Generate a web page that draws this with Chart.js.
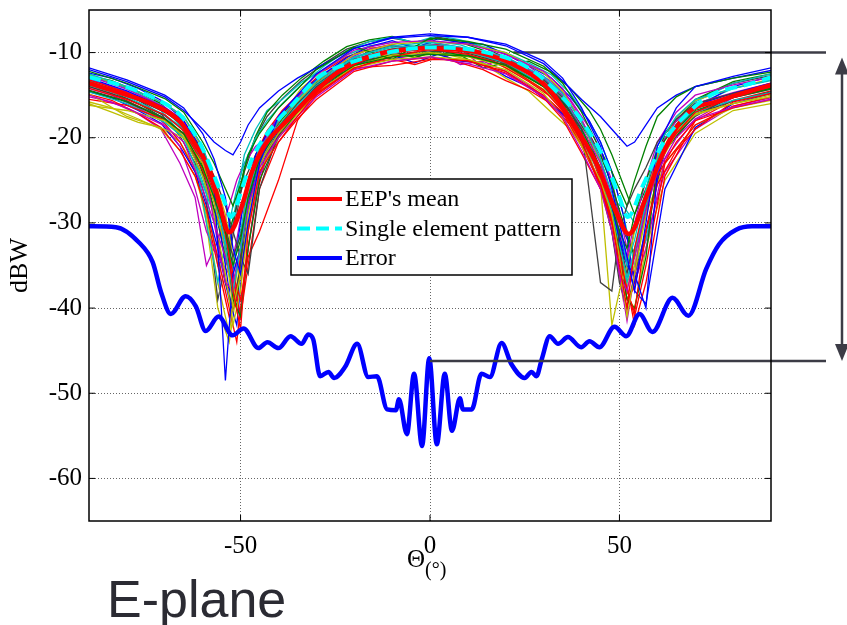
<!DOCTYPE html>
<html>
<head>
<meta charset="utf-8">
<script src="https://cdn.jsdelivr.net/npm/chart.js@4.4.1/dist/chart.umd.min.js"></script>
<style>
  html, body { margin: 0; padding: 0; background: #fff; }
  #wrap { position: relative; width: 847px; height: 625px; }
  #xTitle { position: absolute; left: 407px; top: 546px; font: 25px 'Liberation Serif', serif; color: #000; line-height: 1; }
  #xTitle sub { font-size: 20px; vertical-align: -9px; }
  #plane { position: absolute; left: 107px; top: 573px; font: 52px 'Liberation Sans', Arial, sans-serif; color: #2b2b33; line-height: 1; }
</style>
</head>
<body>
<div id="wrap">
  <canvas id="chart" width="847" height="625"></canvas>
  <div id="xTitle">Θ<sub>(°)</sub></div>
  <div id="plane">E-plane</div>
</div>
<script>
// === Data ===
const xTicks = [-50, 0, 50];
const yTicks = [-60, -50, -40, -30, -20, -10];
const refLevels = [-10, -46.2]; // levels marked by the arrow on the right

// angle grid A for the first group of element patterns
const theta = [-90, -80, -70, -65, -60, -57, -54, -52, -50, -48, -45, -40, -35, -30,
               -20, -10, 0, 10, 20,
               30, 35, 40, 45, 48, 50, 52, 54, 57, 60, 65, 70, 80, 90];

const eep1 = [-11.8, -13.2, -15.0, -16.5, -19.5, -22.5, -27, -33, -36, -30, -23, -17.5, -15, -12.5, -9.5, -8.3, -8.0, -8.2, -9.0, -11.0, -13.0, -16.5, -21, -26, -30, -34, -38, -30, -21, -16.5, -14, -12.8, -11.8];
const eep2 = [-14.5, -15.8, -17.8, -19.5, -23.5, -27, -31, -35, -32, -27, -22.5, -19, -16.5, -14.3, -11.5, -10.5, -10.2, -10.4, -11.5, -14, -16, -19.5, -24, -28, -31, -33, -29, -25, -21.5, -18.5, -16.5, -15.2, -14.2];
const eep3 = [-13.2, -14.7, -16.8, -18.5, -22.5, -26, -30, -38, -42.5, -31, -24, -20.5, -17.5, -14.8, -11.8, -10.5, -9.6, -10.2, -11.5, -14.4, -16.8, -20.5, -25.5, -30, -35, -40, -33, -27, -23, -19.5, -17, -15.3, -14.1];
const eep4 = [-12.5, -14, -16, -17.5, -21, -25, -33, -38, -33, -27, -21.5, -18, -15.5, -13.3, -10.5, -9.2, -8.8, -9.5, -10.5, -12.8, -14.8, -18.2, -22.5, -26.5, -30, -35, -32, -26, -21, -17.5, -15.5, -14.2, -13.2];
const eep5 = [-15, -16.5, -18.6, -20.5, -26, -30, -34, -37, -33, -28, -23.5, -20, -17.5, -15.2, -12, -11, -10.5, -11.3, -12.5, -15.2, -17.5, -21.5, -26, -31, -36, -38, -34, -28.5, -24, -20, -17.8, -16.4, -15.5];
const eep6 = [-14.8, -17.5, -19, -20, -23, -27.5, -33, -40, -36, -29, -23, -19.5, -16.8, -14.6, -11.8, -10.8, -10.5, -10.8, -12, -14.8, -17.6, -21, -25, -29, -34, -41, -36, -29, -23.5, -19.5, -17.2, -16, -15];
const eep7 = [-13.5, -15, -17, -18.5, -21.5, -24.5, -28, -31, -34, -36, -26, -19.5, -16.5, -14, -11, -9.8, -9.5, -9.8, -10.8, -13.4, -15.6, -19, -37, -38, -31, -28, -26, -23.5, -20.5, -17.8, -16, -14.8, -13.8];
const eep8 = [-13, -14.5, -16.5, -18, -21.5, -25, -48.5, -36, -33, -28, -23, -19.5, -16.8, -14.5, -11.2, -9.8, -9.3, -9.7, -10.8, -13.5, -16, -19.8, -24, -28, -32, -35, -36, -40, -24, -18.5, -16.2, -14.8, -13.6];
const eep9 = [-12.2, -13.6, -15.4, -17, -20.5, -23, -26, -28, -25.5, -22, -19.5, -16.5, -14.3, -12, -9.3, -10.8, -8.3, -8.7, -9.6, -11.6, -13.6, -17, -21.5, -24, -26, -28, -25, -21, -17.5, -15.2, -14, -13, -12.3];
const eep10 = [-14.2, -15.5, -17.3, -19.2, -23, -26.5, -31.5, -36, -39, -34, -31, -25, -18, -15, -11.8, -11.5, -10.8, -10.9, -12.4, -15, -17, -21, -25.5, -29.5, -33.5, -38, -40.5, -31, -25.5, -21.5, -19, -15.8, -14.8];
const eep11 = [-13.8, -15.2, -17.3, -19, -22.8, -27, -32, -36, -33, -28.5, -22.5, -19, -16.2, -13.9, -10.9, -9.7, -9.3, -9.9, -11.2, -13.8, -16.2, -20, -24.5, -28.5, -32.5, -36.5, -33.5, -28, -22.5, -18.8, -16.6, -15, -14];
const eep12 = [-12.8, -14.3, -16.4, -18, -22, -30, -37, -38, -33, -27, -21.5, -17.5, -15, -12.6, -9.7, -8.8, -8.6, -9, -10.2, -12.2, -14.2, -17.8, -22.5, -27, -31, -34, -30, -25, -20.5, -17, -15, -13.8, -12.9];
const eep13 = [-16.2, -16.8, -18, -19.8, -24.5, -29, -36, -42, -38, -30, -24, -20, -17.2, -14.8, -11.6, -10.3, -10, -10.5, -11.6, -14.3, -16.8, -20.8, -25.5, -42, -38, -35, -31, -26.5, -22.5, -19.2, -17.3, -16, -15.2];
const eep14 = [-14, -15.4, -17.4, -19, -22.5, -26, -30.5, -34, -31.5, -27.5, -22, -18.8, -16, -13.8, -10.8, -9.6, -9.2, -9.6, -10.8, -13.2, -15.3, -19.5, -24, -28, -32, -36, -30.5, -27, -23, -19.5, -17.5, -15, -14.1];
const eep15 = [-12, -13.4, -15.2, -16.8, -19, -20.5, -21.5, -22, -20.5, -18.5, -16.5, -14.5, -13, -11.8, -9.5, -8.2, -7.8, -8.2, -9.2, -11.3, -13.3, -15.5, -17.5, -19, -20, -21, -20.5, -18.5, -16.5, -15, -14, -13, -12.1];
const eep16 = [-13.4, -14.8, -16.9, -18.6, -22.5, -26.2, -31, -39, -41, -33, -25, -20, -17, -14.2, -11.2, -10.3, -10, -10.3, -11.5, -13.8, -15.8, -19, -23.5, -28.5, -33, -39, -40, -34, -22.8, -19, -16.8, -15.3, -14.3];
const eep17 = [-15.5, -16.2, -17.9, -19.5, -23.8, -27.5, -33, -36.5, -41, -35, -26, -20.5, -17.8, -15.5, -12.2, -11, -10.6, -11, -12.2, -15.3, -17.8, -21.8, -26, -30, -34, -39, -37.5, -31, -24.5, -20.5, -18, -16.5, -15.5];
const eep18 = [-14.6, -16, -18.2, -20, -25.5, -29, -32, -35, -31, -26, -21, -18.6, -16, -13.7, -10.6, -9.4, -9.1, -9.6, -10.7, -13.1, -15.2, -19, -24, -29, -34, -37, -33, -27.5, -23, -19.2, -17, -15.6, -14.7];
const eep19 = [-13.1, -14.6, -16.6, -18.2, -21.8, -25.5, -30, -36, -41, -33, -24.5, -19.5, -16.5, -14, -10.8, -9.6, -9.1, -9.5, -10.5, -13, -15, -18.8, -23, -27.5, -36, -41.5, -36, -27, -21.5, -18, -16, -14.7, -13.6];
const eep20 = [-12.6, -14, -16, -17.6, -21.2, -24.8, -29, -34, -36.5, -31, -23.5, -18.6, -15.8, -13.4, -10.2, -9, -8.7, -9, -10, -12.4, -14.5, -18.2, -22.8, -27.5, -32, -37, -35, -29, -22, -17.6, -15.6, -14.2, -13.1];
const eep21 = [-14.4, -15.7, -17.7, -19.6, -24.5, -29, -37, -40, -35, -28.5, -23, -19.8, -17, -14.6, -11.5, -10.2, -9.8, -10.1, -11.3, -14, -16.5, -20.5, -25.5, -31, -37, -40, -36, -28, -23, -19.5, -17.2, -15.7, -14.6];

// angle grid B for the second group (finer near the main lobe)
const thetaB = [-90, -84, -77, -71, -66, -62, -59, -56, -53, -51,
                -49, -46, -43, -39, -34, -28, -22, -16, -10, -4,
                2, 8, 14, 20, 26, 32, 37, 42, 45, 48,
                51, 54, 57, 62, 70, 80, 90];

const eep22 = [-12.4, -13.0, -14.2, -15.6, -17.5, -20.5, -24, -29, -38, -33, -27, -22, -19.5, -17, -14.6, -12.5, -10.6, -9.3, -8.6, -9.5, -8.4, -8.8, -9.0, -10.2, -11.5, -13.0, -15.2, -18, -20.5, -24, -29, -37, -31, -21, -16.5, -14, -12.8];
const eep23 = [-13.8, -14.6, -16, -17.5, -19.5, -22, -25, -30, -36, -40, -30, -24, -20.5, -17.8, -15.5, -13.2, -11.5, -10.4, -9.8, -10.6, -9.7, -10.3, -11.8, -11.2, -12.8, -14.6, -16.8, -19.8, -22, -25.5, -30, -34, -28, -21.5, -17.3, -15.2, -14];
const eep24 = [-14.9, -15.6, -17.2, -18.8, -21.5, -24.5, -28.5, -34, -40, -44, -36, -27, -22, -19, -16.6, -14.2, -12.3, -11.2, -10.8, -11.4, -10.6, -11.2, -12, -13.3, -14.4, -16, -18.5, -22.5, -26, -30, -36, -41, -35, -23, -18.5, -16.3, -15.2];
const eep25 = [-12.9, -13.5, -14.8, -16.2, -18.5, -22, -30, -37, -30, -26, -23, -20, -18, -16, -13.8, -11.6, -9.8, -8.7, -8.2, -8.8, -8.0, -8.5, -9.3, -10, -11.2, -12.6, -14.8, -18, -20.5, -24, -29, -35, -32, -20, -15.8, -13.6, -12.5];
const eep26 = [-14.2, -15, -16.5, -18, -21, -26, -31, -34, -36, -32, -27, -22.5, -19.5, -17, -14.8, -12.6, -10.8, -9.6, -9, -9.8, -8.9, -9.4, -11.8, -10.2, -11.6, -13.4, -15.5, -18.8, -21.5, -25, -31, -37, -33, -22.5, -17.8, -15.3, -14.3];
const eep27 = [-15.8, -16.5, -17.8, -19, -21.5, -24.5, -29, -37, -43, -36, -29, -23, -19.8, -17.5, -15, -13, -11.4, -10.6, -10.2, -10.5, -10, -10.6, -11.3, -13, -14.5, -17, -19, -22, -26, -31, -39, -35, -29, -23, -18.5, -16.5, -15.6];
const eep28 = [-13.6, -14.3, -15.6, -17.2, -19.8, -23, -27.5, -39, -33, -28, -25, -22, -19.5, -17.2, -15, -12.8, -11, -9.9, -9.2, -9.6, -9.2, -9.5, -10.3, -11.3, -12.8, -14.5, -16.5, -20, -24, -30, -34, -36, -31, -21.5, -17, -14.9, -13.9];
const eep29 = [-14.6, -15.3, -16.8, -18.3, -21, -24, -28, -33, -39, -42, -33, -26, -21.5, -18.5, -16, -13.6, -11.8, -10.8, -10.3, -11.2, -10.2, -11, -11.2, -12.8, -14, -16, -18, -21.5, -24, -28, -33, -38, -39.5, -26, -18.8, -16, -14.8];
const eep30 = [-12.7, -13.3, -14.6, -16, -18.2, -21, -24.5, -28, -31, -28, -23.5, -19.8, -17, -15, -13, -11, -9.3, -8.5, -8.1, -8.9, -8.3, -8.8, -9.7, -11.4, -11, -12.3, -14.2, -16.8, -19, -22, -25.5, -29, -26, -19.5, -15.5, -13.4, -12.5];
const eep31 = [-14, -14.8, -16.3, -17.8, -20.5, -24, -29, -35, -41, -39, -28, -22, -19.2, -16.8, -14.6, -12.2, -10.5, -9.6, -9.1, -9.7, -9.0, -9.6, -10.4, -11.8, -13.4, -15.2, -17.8, -21.5, -25, -29, -35, -42, -37, -24.5, -18, -15.6, -14.5];
const eep32 = [-13.3, -14, -15.3, -16.8, -19.3, -22.5, -26.5, -35, -33, -27, -22, -19, -16.8, -15.5, -13.5, -12, -10.3, -9.2, -8.8, -9.3, -8.7, -9.1, -10, -11, -12.4, -14.5, -16.8, -21, -25, -27.5, -28, -30, -26.5, -20, -16.2, -14.2, -13.3];
const eep33 = [-15.2, -15.8, -17.2, -19, -23, -27, -35, -32, -28, -25, -23, -21, -20, -17.6, -15.3, -13, -11.3, -10.2, -10.8, -10.3, -9.8, -11.4, -11, -12.2, -13.8, -15.8, -18.2, -22, -26, -29, -33, -36, -32, -24, -19, -16.3, -15.3];
const eep34 = [-16, -17, -18.2, -18.8, -20.5, -23.5, -30, -40, -44, -38, -30, -25, -21, -17.3, -14.2, -12, -10.2, -9.4, -9.6, -9.4, -9, -9.6, -10.6, -11.8, -13.3, -15, -17.5, -21, -24.5, -31, -38, -40, -33, -25, -19.5, -16.8, -16];
const eep35 = [-12.8, -13.4, -14.6, -16, -18.5, -21.5, -25.5, -30, -34, -29, -24, -20, -17.5, -15.4, -13.3, -11.3, -9.6, -8.7, -8.3, -8.8, -8.2, -8.6, -9.4, -10.6, -12, -13.8, -16, -19.5, -22, -25.5, -31, -33.5, -28.5, -19.5, -15.6, -13.6, -12.7];

const eepGroupA = [eep1, eep2, eep3, eep4, eep5, eep6, eep7, eep8, eep9, eep10, eep11,
                   eep12, eep13, eep14, eep15, eep16, eep17, eep18, eep19, eep20, eep21];
const eepGroupB = [eep22, eep23, eep24, eep25, eep26, eep27, eep28, eep29, eep30, eep31,
                   eep32, eep33, eep34, eep35];
const eepColors = ['#0000ff', '#008000', '#ff0000', '#00bfbf', '#bf00bf', '#bfbf00', '#404040'];

// EEP's mean
const meanTheta = [-90, -82, -73, -66, -62, -58, -56, -53, -49.5, -47, -43.5, -38, -31, -24, -14, -5, 0, 5, 13, 22, 31, 37.5, 44, 49, 52.5, 57, 61, 67.5, 76, 90];
const meanDb = [-13.6, -14.7, -16.1, -18.1, -20.8, -24, -27, -31.1, -27.8, -24, -20.8, -18.1, -14.9, -12.2, -10.2, -9.6, -9.5, -9.6, -10, -11.4, -14.1, -18.1, -23.1, -28.6, -31.3, -27, -22.3, -17.3, -15.7, -13.8];

// single element pattern
const singleTheta = [-90, -82, -73, -66, -61, -57.4, -54, -52.6, -49.5, -46.8, -42.6, -36.3, -29.5, -20.5, -7.4, 0, 13, 26, 35, 41.3, 46.6, 50, 52.2, 56, 61.3, 67.6, 74.5, 83.4, 90];
const singleDb = [-12.9, -13.8, -15.3, -17.3, -20.4, -24, -27.8, -29.3, -25.8, -22.3, -19.3, -16.1, -12.9, -11.1, -9.7, -9.4, -9.8, -11.8, -15.3, -18.8, -23.1, -27, -29.3, -25.8, -20.8, -17.3, -14.9, -13.8, -12.9];

// error
const errTheta = [-90, -82.9, -76.8, -73.2, -71, -68.4, -64.5, -61.8, -59.2, -55.8, -52.1, -49.2, -45.3, -42.9, -40, -36.8, -33.9, -32.1, -30.8, -29, -26.8, -25.3, -22.4, -19.2, -16.3, -14, -11.3, -9, -8.2, -6.1, -4.2, -2.1, -0.2, 1.8, 3.9, 5.8, 7.9, 8.7, 11, 13.6, 15.8, 18.9, 21.5, 25, 26.8, 28.1, 29.5, 31.6, 33.8, 36.4, 39.9, 42.1, 44.7, 48.7, 51.8, 55.3, 58.7, 64, 68.2, 72.9, 76.3, 80.8, 85, 90];
const errDb = [-30.4, -30.5, -32.3, -34.6, -38.1, -40.7, -38.6, -39.8, -42.7, -41.0, -43.2, -42.4, -44.7, -44.0, -44.7, -43.3, -44.2, -43.1, -43.7, -48.0, -47.5, -48.2, -46.9, -44.2, -48.1, -48.0, -51.9, -52.0, -50.7, -54.8, -47.7, -56.2, -45.9, -56.0, -47.7, -54.4, -50.6, -51.9, -51.9, -47.7, -48.1, -44.1, -46.6, -48.2, -47.5, -48.0, -46.0, -43.3, -44.2, -43.4, -44.6, -43.9, -44.6, -42.2, -43.3, -40.7, -42.8, -38.8, -40.9, -35.4, -32.5, -30.8, -30.4, -30.4];

const pts = (xs, ys) => xs.map((x, i) => ({ x, y: ys[i] }));
const serif = '"Liberation Serif", "Times New Roman", serif';

// === Datasets: first one is drawn on top ===
const datasets = [
    { label: 'Error', data: pts(errTheta, errDb), borderColor: '#0000ff', borderWidth: 4.5, cubicInterpolationMode: 'monotone' },
    { label: 'Single element pattern', data: pts(singleTheta, singleDb), borderColor: '#00ffff', borderWidth: 4, borderDash: [12, 7], cubicInterpolationMode: 'monotone' },
    { label: "EEP's mean", data: pts(meanTheta, meanDb), borderColor: '#ff0000', borderWidth: 4.5, cubicInterpolationMode: 'monotone' }
];
let n = 0;
[[theta, eepGroupA], [thetaB, eepGroupB]].forEach(([xs, group]) => {
    group.forEach(vals => {
        datasets.push({ label: 'eep' + (n + 1), data: pts(xs, vals), borderColor: eepColors[n % eepColors.length], borderWidth: 1.3, tension: 0 });
        n++;
    });
});

// frame, inward tick marks, arrow annotation and the boxed legend
const decorations = {
    id: 'decorations',
    beforeDatasetsDraw(chart) {
        const { ctx, scales: { x, y } } = chart;
        const yy = y.getPixelForValue(refLevels[0]);
        ctx.save();
        ctx.strokeStyle = '#3c3c46';
        ctx.lineWidth = 2.5;
        ctx.beginPath();
        ctx.moveTo(x.getPixelForValue(22), yy);
        ctx.lineTo(chart.chartArea.right + 55, yy);
        ctx.stroke();
        ctx.restore();
    },
    afterDraw(chart) {
        const { ctx, chartArea: ca, scales: { x, y } } = chart;
        ctx.save();
        // second reference line + double arrow
        const yTop = y.getPixelForValue(refLevels[0]);
        const yBot = y.getPixelForValue(refLevels[1]);
        ctx.strokeStyle = '#3c3c46';
        ctx.fillStyle = '#3c3c46';
        ctx.lineWidth = 2.5;
        ctx.beginPath();
        ctx.moveTo(x.getPixelForValue(0), yBot);
        ctx.lineTo(ca.right + 55, yBot);
        ctx.stroke();
        const ax = ca.right + 71, t1 = yTop + 5, t2 = yBot;
        ctx.beginPath();
        ctx.moveTo(ax, t1 + 14);
        ctx.lineTo(ax, t2 - 14);
        ctx.stroke();
        ctx.beginPath();
        ctx.moveTo(ax, t1); ctx.lineTo(ax - 7, t1 + 17); ctx.lineTo(ax + 7, t1 + 17); ctx.closePath(); ctx.fill();
        ctx.beginPath();
        ctx.moveTo(ax, t2); ctx.lineTo(ax - 7, t2 - 17); ctx.lineTo(ax + 7, t2 - 17); ctx.closePath(); ctx.fill();

        // axes box + inward ticks
        ctx.strokeStyle = '#000';
        ctx.lineWidth = 1.5;
        ctx.strokeRect(ca.left, ca.top, ca.right - ca.left, ca.bottom - ca.top);
        ctx.lineWidth = 1;
        ctx.beginPath();
        xTicks.forEach(v => {
            const px = x.getPixelForValue(v);
            ctx.moveTo(px, ca.bottom); ctx.lineTo(px, ca.bottom - 6);
            ctx.moveTo(px, ca.top); ctx.lineTo(px, ca.top + 6);
        });
        yTicks.forEach(v => {
            const py = y.getPixelForValue(v);
            ctx.moveTo(ca.left, py); ctx.lineTo(ca.left + 6, py);
            ctx.moveTo(ca.right, py); ctx.lineTo(ca.right - 6, py);
        });
        ctx.stroke();

        // legend box
        const bx = ca.left + 202, by = ca.top + 169, bw = 281, bh = 96;
        ctx.fillStyle = '#fff';
        ctx.fillRect(bx, by, bw, bh);
        ctx.strokeStyle = '#000';
        ctx.lineWidth = 1.5;
        ctx.strokeRect(bx, by, bw, bh);
        const items = [datasets[2], datasets[1], datasets[0]];
        ctx.font = '24px ' + serif;
        ctx.textBaseline = 'middle';
        items.forEach((d, i) => {
            const ly = by + 20 + i * 29.5;
            ctx.strokeStyle = d.borderColor;
            ctx.lineWidth = 4;
            ctx.setLineDash(d.borderDash ? [13, 6] : []);
            ctx.beginPath();
            ctx.moveTo(bx + 6, ly); ctx.lineTo(bx + 51, ly);
            ctx.stroke();
            ctx.setLineDash([]);
            ctx.fillStyle = '#000';
            ctx.fillText(d.label, bx + 54, ly + 1);
        });
        ctx.restore();
    }
};

const gridStyle = { color: 'rgba(0,0,0,0.6)', lineWidth: 1, drawTicks: false };

new Chart(document.getElementById('chart').getContext('2d'), {
    type: 'line',
    data: { datasets },
    options: {
        responsive: false,
        animation: false,
        elements: { point: { radius: 0 } },
        layout: { padding: { top: 10, right: 76, bottom: 0, left: 0 } },
        scales: {
            x: {
                type: 'linear', min: -90, max: 90,
                afterFit: s => { s.height = 104; s.paddingLeft = 0; s.paddingRight = 0; },
                afterBuildTicks: s => { s.ticks = xTicks.map(v => ({ value: v })); },
                ticks: { font: { family: serif, size: 25 }, color: '#000', padding: 10, maxRotation: 0, autoSkip: false },
                grid: gridStyle,
                border: { display: false, dash: [1, 2] }
            },
            y: {
                type: 'linear', min: -65, max: -5,
                afterFit: s => { s.width = 89; s.paddingTop = 0; s.paddingBottom = 0; },
                afterBuildTicks: s => { s.ticks = yTicks.map(v => ({ value: v })); },
                ticks: { font: { family: serif, size: 25 }, color: '#000', padding: 7 },
                grid: gridStyle,
                border: { display: false, dash: [1, 2] },
                title: { display: true, text: 'dBW', font: { family: serif, size: 26 }, color: '#000', padding: { top: 5, bottom: 0 } }
            }
        },
        plugins: { legend: { display: false }, tooltip: { enabled: false } }
    },
    plugins: [decorations]
});
</script>
</body>
</html>
